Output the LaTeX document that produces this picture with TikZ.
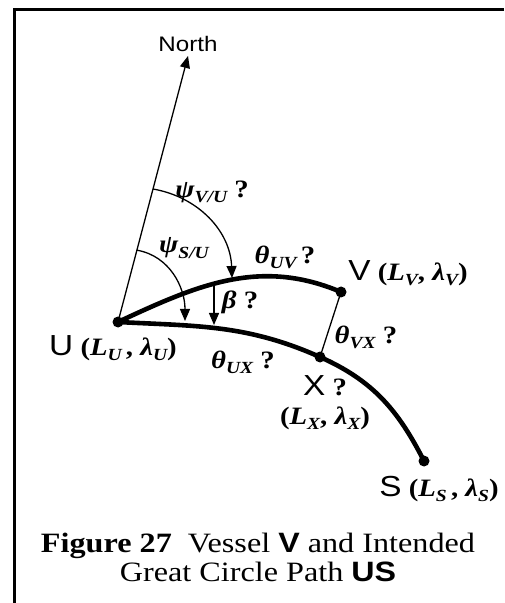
\documentclass[tikz,border=0pt]{standalone}
\usepackage{fontspec}
\setmainfont{Liberation Serif}[FakeStretch=1.15]
\setsansfont{Liberation Sans}[FakeStretch=1.15]
\usepackage{tikz}
\usetikzlibrary{arrows.meta,positioning,calc}
\newcommand\bi[1]{{\bfseries\itshape #1}}
\newcommand\ix[1]{\raisebox{-0.45ex}{\fontsize{8.5}{9}\selectfont\bfseries\itshape #1}}
\newcommand\pt[1]{{\fontsize{14.5}{15}\selectfont\sffamily\mdseries #1}}
\tikzset{
  frame/.style={draw=black,line width=1.5pt},
  route/.style={draw=black,line width=2.3pt},
  guide/.style={draw=black,line width=.65pt},
  arrow/.style={-{Triangle[length=6pt,width=5pt]},draw=black,line width=.65pt},
  dot/.style={circle,fill=black,inner sep=0pt,minimum size=5.5pt},
  lbl/.style={inner sep=1pt,font=\fontsize{12.5}{15}\selectfont\bfseries},
  northlbl/.style={inner sep=1pt,font=\fontsize{10.5}{12}\selectfont\sffamily},
  caption/.style={align=center,inner sep=0pt,font=\fontsize{14}{14.5}\selectfont}
}
\begin{document}
\begin{tikzpicture}[x=0.5pt,y=-0.5pt]
\useasboundingbox (0,0) rectangle (504,603);
\draw[frame] (504,9.5) -- (14.5,9.5) -- (14.5,603);

\node[dot] (U) at (118,322) {};
\node[dot] (V) at (341,292) {};
\node[dot] (X) at (320,357) {};
\node[dot] (S) at (424,461) {};
\coordinate (N) at (188,56);
\node[northlbl,above=1pt of N] (north) {North};

\draw[route] (U.center) to[out=25,in=157] (V.center);
\draw[route] (U.center) to[out=-3,in=156] (X.center)
  to[out=-24,in=117] (S.center);
\draw[guide] (V.center) -- (X.center);
\draw[arrow] (U.center) -- (N);

% bearings from north
\coordinate (psiVa) at ($(U.center)!0.5!(N)$);
\coordinate (psiVb) at (232,278);
\coordinate (psiSa) at ($(U.center)!0.27!(N)$);
\coordinate (psiSb) at (185,321);
\draw[arrow] (psiVa) to[out=-10,in=92] (psiVb);
\draw[arrow] (psiSa) to[out=-10,in=90] (psiSb);

\coordinate (betaa) at (214,285);
\coordinate (betab) at (214,325);
\draw[arrow] (betaa) -- (betab);

\node[lbl] (psiV) at (212,192) {\bi{ψ}\ix{V/U} ?};
\node[lbl] (psiS) at (184,248) {\bi{ψ}\ix{S/U}};
\node[lbl] (thUV) at (285,257) {\bi{θ}\ix{UV}\,?};
\node[lbl] (beta) at (240,302) {\bi{β} ?};
\node[lbl] (thVX) at (366,337) {\bi{θ}\ix{VX} ?};
\node[lbl] (thUX) at (243,362) {\bi{θ}\ix{UX} ?};
\node[lbl] (Vlbl) at (408,273) {\pt{V} (\bi{L}\ix{V}, \bi{λ}\ix{V})};
\node[lbl] (Ulbl) at (113,348) {\pt{U} (\bi{L}\ix{U}\,, \bi{λ}\ix{U})};
\node[lbl] (Xlbl) at (325,386) {\pt{X} ?};
\node[lbl,below=3pt of Xlbl] (XLlbl) {(\bi{L}\ix{X}, \bi{λ}\ix{X})};
\node[lbl,anchor=east] (Slbl) at (501,489) {\pt{S} (\bi{L}\ix{S}\,, \bi{λ}\ix{S})};

\node[caption] (cap) at (258,557)
{\textbf{Figure 27}\ \ Vessel \textsf{\bfseries V} and Intended\\
Great Circle Path \textsf{\bfseries US}};
\end{tikzpicture}
\end{document}
